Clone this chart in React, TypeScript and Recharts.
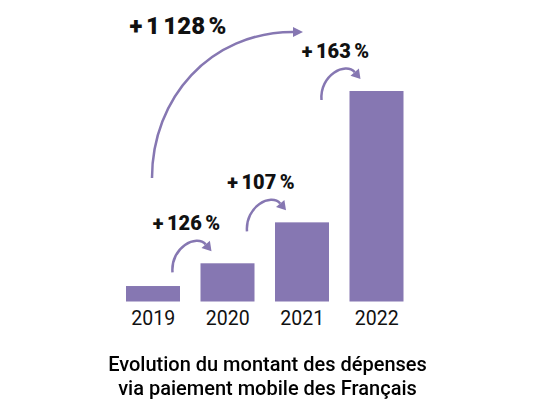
import { Bar, BarChart, XAxis, YAxis } from "recharts";

// valeurs (unités relatives, 2022 = 20)
const YEARS = ["2019", "2020", "2021", "2022"];
const AMOUNTS = [1.47, 3.63, 7.52, 20];
// progression affichée au-dessus de chaque barre (par rapport à l'année précédente)
const GROWTH = [[], ["+", "126", "%"], ["+", "107", "%"], ["+", "163", "%"]];
const TOTAL_GROWTH = ["+", "1", "128", "%"];
const TITLE = ["Evolution du montant des dépenses", "via paiement mobile des Français"];

const PURPLE = "#8677b2";
const FONT = "Roboto, 'Noto Sans', sans-serif";

const data = YEARS.map((year, i) => ({ year, amount: AMOUNTS[i], growth: GROWTH[i] }));

function arrowHead(tx: number, ty: number, ang: number, len = 10, hw = 5.5) {
  const c = Math.cos(ang);
  const s = Math.sin(ang);
  const bx = tx - len * c;
  const by = ty - len * s;
  return {
    bx,
    by,
    points: `${tx},${ty} ${bx - hw * s},${by + hw * c} ${bx + hw * s},${by - hw * c}`,
  };
}

// texte "+ 126 %" avec des espaces fines
function Growth({ x, y, parts, size, gap }: { x: number; y: number; parts: string[]; size: number; gap: number }) {
  return (
    <text x={x} y={y} textAnchor="middle" fontFamily={FONT} fontWeight={900} fontSize={size} fill="#111">
      {parts.map((p, i) => (
        <tspan key={i} dx={i === 0 ? 0 : gap}>
          {p}
        </tspan>
      ))}
    </text>
  );
}

function BarWithArrow(props: any) {
  const { x, y, width, height, index, payload } = props;
  const rect = <rect x={x} y={y} width={width} height={height} fill={PURPLE} />;

  if (index === 0) {
    // grande flèche 2019 -> 2022
    const sx = x + width / 2 - 1;
    const sy = y - 108;
    const head = arrowHead(sx + 151, y - 254, 0, 10, 5);
    return (
      <g>
        {rect}
        <path
          d={`M${sx},${sy} C${sx},${sy - 80} ${sx + 58},${head.by} ${head.bx},${head.by}`}
          fill="none"
          stroke={PURPLE}
          strokeWidth={2.5}
        />
        <polygon points={head.points} fill={PURPLE} />
        <Growth x={sx + 26} y={y - 252} parts={TOTAL_GROWTH} size={24} gap={3.5} />
      </g>
    );
  }

  const ang = 0.87;
  const sx = x - 28;
  const sy = y + 9;
  const head = arrowHead(x + 11, y - 12, ang, 9, 5.5);
  const c2x = head.bx - 14 * Math.cos(ang);
  const c2y = head.by - 14 * Math.sin(ang);
  return (
    <g>
      {rect}
      <path
        d={`M${sx},${sy} C${sx - 2},${sy - 25} ${c2x},${c2y} ${head.bx},${head.by}`}
        fill="none"
        stroke={PURPLE}
        strokeWidth={2.5}
      />
      <polygon points={head.points} fill={PURPLE} />
      <Growth x={x - 14} y={y - 33} parts={payload.growth} size={20} gap={3.5} />
    </g>
  );
}

export default function App() {
  return (
    <div style={{ position: "fixed", left: 0, top: 0, width: 533, height: 414, background: "#fff" }}>
      <BarChart width={533} height={414} data={data} margin={{ top: 91, right: 119, bottom: 82.5, left: 116 }}>
        <XAxis
          dataKey="year"
          axisLine={false}
          tickLine={false}
          tickMargin={4}
          height={30}
          tick={{ fill: "#111", fontSize: 19.5, fontFamily: FONT }}
        />
        <YAxis hide domain={[0, 20]} />
        <Bar dataKey="amount" barSize={54} shape={BarWithArrow} isAnimationActive={false} />
      </BarChart>
      <div
        style={{
          position: "absolute",
          left: 0,
          top: 351.5,
          width: 535,
          textAlign: "center",
          fontFamily: FONT,
          fontWeight: 500,
          fontSize: 20,
          lineHeight: "24px",
          color: "#000",
        }}
      >
        {TITLE.map((line) => (
          <div key={line}>{line}</div>
        ))}
      </div>
    </div>
  );
}
